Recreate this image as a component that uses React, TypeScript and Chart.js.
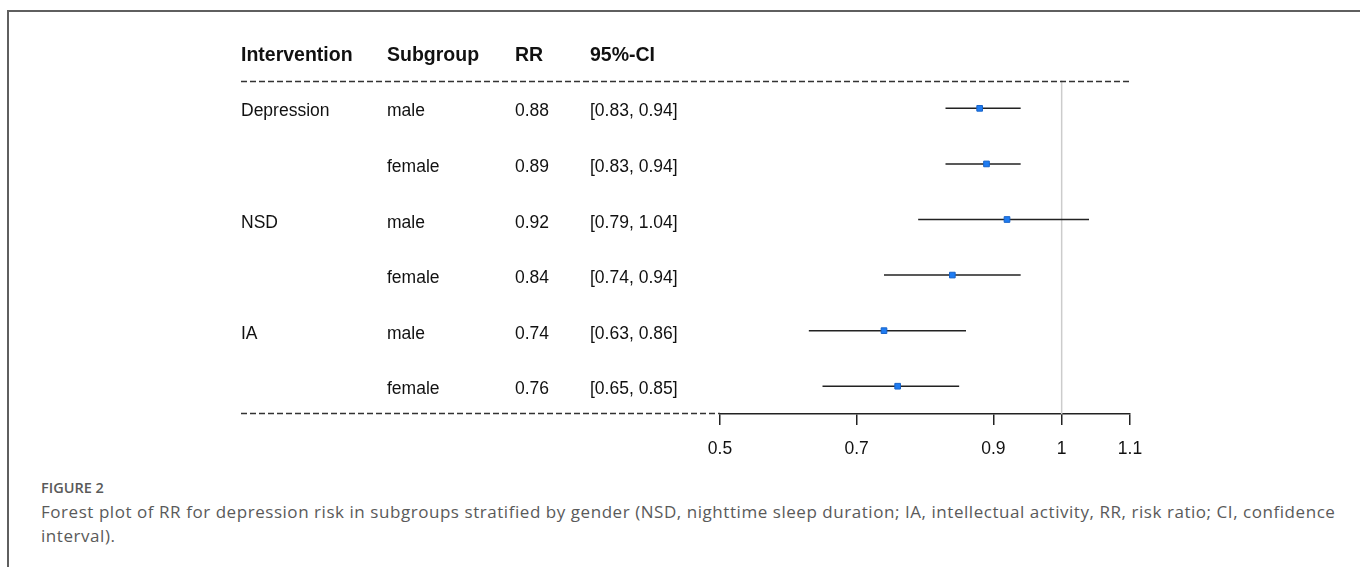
import React, { useEffect, useRef } from "react";
import { Chart, registerables } from "chart.js";

Chart.register(...registerables);

const headers = ["Intervention", "Subgroup", "RR", "95%-CI"];
const interventions = ["Depression", "", "NSD", "", "IA", ""];
const subgroups = ["male", "female", "male", "female", "male", "female"];
const rr = [0.88, 0.89, 0.92, 0.84, 0.74, 0.76];
const ciLow = [0.83, 0.83, 0.79, 0.74, 0.63, 0.65];
const ciHigh = [0.94, 0.94, 1.04, 0.94, 0.86, 0.85];
const xTicks = [0.5, 0.7, 0.9, 1, 1.1];
const refValue = 1;
const figureLabel = "FIGURE 2";
const captionText =
  "Forest plot of RR for depression risk in subgroups stratified by gender (NSD, nighttime sleep duration; IA, intellectual activity, RR, risk ratio; CI, confidence interval).";

const COLS = [241, 387, 515, 590];
const TEXT_FONT = "17.5px 'Liberation Sans', Arial, sans-serif";
const HEAD_FONT = "bold 19.5px 'Liberation Sans', Arial, sans-serif";

const tablePlugin = {
  id: "tablePlugin",
  afterDraw(chart: any) {
    const ctx = chart.ctx;
    const xs = chart.scales.x;
    const ys = chart.scales.y;
    ctx.save();
    ctx.fillStyle = "#111";
    ctx.textBaseline = "alphabetic";
    ctx.textAlign = "left";
    // header
    ctx.font = HEAD_FONT;
    const hy = ys.getPixelForValue(0) + 8.5;
    headers.forEach((h, i) => ctx.fillText(h, COLS[i], hy));
    // rows
    ctx.font = TEXT_FONT;
    rr.forEach((v, i) => {
      const y = ys.getPixelForValue(i + 1) + 8;
      if (interventions[i]) ctx.fillText(interventions[i], COLS[0], y);
      ctx.fillText(subgroups[i], COLS[1], y);
      ctx.fillText(v.toFixed(2), COLS[2], y);
      ctx.fillText(`[${ciLow[i].toFixed(2)}, ${ciHigh[i].toFixed(2)}]`, COLS[3], y);
    });
    // dashed separators
    ctx.strokeStyle = "#333";
    ctx.lineWidth = 1.5;
    ctx.setLineDash([6, 3]);
    const topY = Math.round(ys.getPixelForValue(0.5)) + 0.5;
    ctx.beginPath();
    ctx.moveTo(COLS[0], topY);
    ctx.lineTo(xs.getPixelForValue(1.1) + 1, topY);
    ctx.stroke();
    const botY = Math.round(xs.top) - 0.5;
    ctx.beginPath();
    ctx.moveTo(COLS[0], botY);
    ctx.lineTo(xs.getPixelForValue(0.5), botY);
    ctx.stroke();
    ctx.restore();
  },
};

export default function App() {
  const ref = useRef<HTMLCanvasElement>(null);
  useEffect(() => {
    if (!ref.current) return;
    const ciSets = rr.map((_, i) => ({
      type: "line" as const,
      data: [
        { x: ciLow[i], y: i + 1 },
        { x: ciHigh[i], y: i + 1 },
      ],
      borderColor: "#222",
      borderWidth: 1.5,
      pointRadius: 0,
      showLine: true,
    }));
    const chart = new Chart(ref.current, {
      type: "scatter",
      data: {
        datasets: [
          {
            data: rr.map((v, i) => ({ x: v, y: i + 1 })),
            pointStyle: "rect",
            pointRadius: 4,
            backgroundColor: "#1f7cf2",
            borderColor: "#1763c9",
            borderWidth: 1,
          } as any,
          ...ciSets,
          {
            type: "line",
            data: [
              { x: refValue, y: 0.5 },
              { x: refValue, y: 6.5 },
            ],
            borderColor: "#cccccc",
            borderWidth: 1.5,
            pointRadius: 0,
            showLine: true,
          },
        ],
      },
      options: {
        animation: false,
        responsive: false,
        events: [],
        layout: { padding: { left: 720, right: 230, top: 25, bottom: 0 } },
        plugins: { legend: { display: false }, tooltip: { enabled: false } },
        scales: {
          x: {
            type: "linear",
            min: 0.5,
            max: 1.1,
            afterBuildTicks: (s: any) => {
              s.ticks = xTicks.map((v) => ({ value: v }));
            },
            afterFit: (s: any) => {
              s.height = 50;
            },
            ticks: {
              font: { family: "'Liberation Sans', Arial, sans-serif", size: 17.5 },
              color: "#111",
              padding: 14,
              maxRotation: 0,
              autoSkip: false,
              callback: (v: any) => String(v),
            },
            grid: {
              drawOnChartArea: false,
              drawTicks: true,
              tickLength: 11,
              color: "#222",
              lineWidth: 1.5,
            },
            border: { display: true, color: "#222", width: 1.5 },
          },
          y: {
            type: "linear",
            min: -0.5,
            max: 6.5,
            reverse: true,
            display: false,
          },
        },
      },
      plugins: [tablePlugin],
    } as any);
    return () => chart.destroy();
  }, []);

  return (
    <div
      style={{
        position: "fixed",
        left: 0,
        top: 0,
        width: 1360,
        height: 567,
        overflow: "hidden",
        background: "#fff",
      }}
    >
      <div
        style={{
          position: "absolute",
          left: 7,
          top: 10,
          width: 1500,
          height: 700,
          borderLeft: "2px solid #5f5f5f",
          borderTop: "2px solid #5f5f5f",
        }}
      />
      <canvas
        ref={ref}
        width={1360}
        height={464}
        style={{ position: "absolute", left: 0, top: 0, width: 1360, height: 464 }}
      />
      <div
        style={{
          position: "absolute",
          left: 41,
          top: 478,
          font: "600 14.5px 'Open Sans', sans-serif",
          color: "#5a5a5a",
        }}
      >
        {figureLabel}
      </div>
      <div
        style={{
          position: "absolute",
          left: 41,
          top: 500,
          width: 1310,
          font: "17px 'Open Sans', sans-serif",
          letterSpacing: "0.55px",
          lineHeight: "24px",
          color: "#5a5a5a",
        }}
      >
        {captionText}
      </div>
    </div>
  );
}
